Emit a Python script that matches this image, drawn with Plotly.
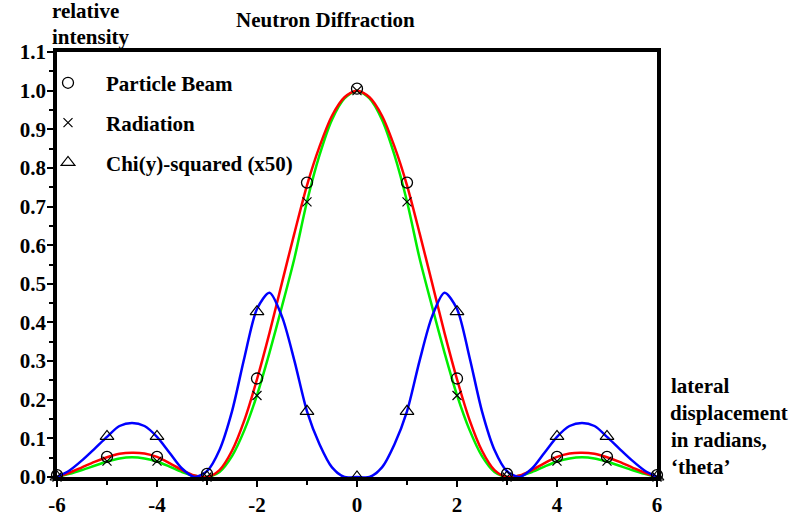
import plotly.graph_objects as go

# Curve sample positions (lateral displacement, radians)
curve_x = [-6.0, -5.75, -5.5, -5.25, -5.0, -4.75, -4.5, -4.25, -4.0, -3.75, -3.5, -3.25,
           -3.0, -2.75, -2.5, -2.25, -2.0, -1.75, -1.5, -1.25, -1.0, -0.75, -0.5, -0.25,
           0.0, 0.25, 0.5, 0.75, 1.0, 1.25, 1.5, 1.75, 2.0, 2.25, 2.5, 2.75,
           3.0, 3.25, 3.5, 3.75, 4.0, 4.25, 4.5, 4.75, 5.0, 5.25, 5.5, 5.75, 6.0]

# Red curve (particle beam)
beam_curve = [0.000, 0.011, 0.025, 0.039, 0.051, 0.060, 0.063, 0.061, 0.052, 0.036, 0.018, 0.004,
              0.000, 0.018, 0.068, 0.148, 0.253, 0.373, 0.503, 0.632, 0.755, 0.855, 0.935, 0.983,
              1.000, 0.983, 0.935, 0.855, 0.755, 0.632, 0.503, 0.373, 0.253, 0.148, 0.068, 0.018,
              0.000, 0.004, 0.018, 0.036, 0.052, 0.061, 0.063, 0.060, 0.051, 0.039, 0.025, 0.011, 0.000]

# Green curve (radiation)
rad_curve = [0.000, 0.008, 0.018, 0.029, 0.040, 0.048, 0.051, 0.048, 0.040, 0.027, 0.013, 0.003,
             0.000, 0.013, 0.054, 0.122, 0.212, 0.322, 0.442, 0.567, 0.713, 0.833, 0.925, 0.980,
             1.000, 0.980, 0.925, 0.833, 0.713, 0.567, 0.442, 0.322, 0.212, 0.122, 0.054, 0.013,
             0.000, 0.003, 0.013, 0.027, 0.040, 0.048, 0.051, 0.048, 0.040, 0.029, 0.018, 0.008, 0.000]

# Blue curve (chi-squared x50)
chi_curve = [0.000, 0.017, 0.043, 0.073, 0.104, 0.132, 0.140, 0.132, 0.104, 0.063, 0.022, 0.000,
             0.015, 0.070, 0.170, 0.310, 0.435, 0.477, 0.415, 0.300, 0.170, 0.085, 0.025, 0.000,
             0.000, 0.000, 0.025, 0.085, 0.170, 0.300, 0.415, 0.477, 0.435, 0.310, 0.170, 0.070,
             0.015, 0.000, 0.022, 0.063, 0.104, 0.132, 0.140, 0.132, 0.104, 0.073, 0.043, 0.017, 0.000]

# Measured points
point_x = [-6, -5, -4, -3, -2, -1, 0, 1, 2, 3, 4, 5, 6]
beam_pts = [0.005, 0.052, 0.052, 0.008, 0.255, 0.762, 1.005, 0.762, 0.255, 0.008, 0.052, 0.052, 0.005]
rad_pts = [0.0, 0.041, 0.041, 0.0, 0.211, 0.712, 1.0, 0.712, 0.211, 0.0, 0.041, 0.041, 0.0]
chi_pts = [0.0, 0.105, 0.105, 0.0, 0.428, 0.170, 0.0, 0.170, 0.428, 0.0, 0.105, 0.105, 0.0]

# Tick labels
x_tick_vals = [-6, -4, -2, 0, 2, 4, 6]
x_tick_text = ["-6", "-4", "-2", "0", "2", "4", "6"]

FONT = "Liberation Serif"

fig = go.Figure()
fig.add_trace(go.Scatter(x=curve_x, y=rad_curve, mode="lines", showlegend=False,
                         line=dict(color="#00ee00", width=2.5, shape="spline", smoothing=0.8)))
fig.add_trace(go.Scatter(x=curve_x, y=beam_curve, mode="lines", showlegend=False,
                         line=dict(color="#ff0000", width=2.5, shape="spline", smoothing=0.8)))
fig.add_trace(go.Scatter(x=curve_x, y=chi_curve, mode="lines", showlegend=False,
                         line=dict(color="#0000ff", width=2.5, shape="spline", smoothing=0.8)))

fig.add_trace(go.Scatter(x=point_x, y=beam_pts, mode="markers", name="Particle Beam",
                         legendgroup="a", cliponaxis=False,
                         marker=dict(symbol="circle-open", size=11, color="black",
                                     line=dict(width=1.3, color="black"))))
fig.add_trace(go.Scatter(x=point_x, y=rad_pts, mode="markers", name="Radiation",
                         legendgroup="b", cliponaxis=False,
                         marker=dict(symbol="x-thin-open", size=9, color="black",
                                     line=dict(width=1.2, color="black"))))
fig.add_trace(go.Scatter(x=point_x, y=chi_pts, mode="markers", name="Chi(y)-squared (x50)",
                         legendgroup="c", cliponaxis=False,
                         marker=dict(symbol="triangle-up-open", size=12, color="black",
                                     line=dict(width=1.2, color="black"))))

axis_common = dict(showgrid=False, zeroline=False, showline=True, linecolor="black",
                   linewidth=3.5, mirror=True, ticks="outside", tickcolor="black",
                   tickwidth=2, ticklen=6,
                   tickfont=dict(family=FONT, size=21, color="black", weight="bold"))

fig.update_xaxes(range=[-6, 6], tickvals=x_tick_vals, ticktext=x_tick_text,
                 minor=dict(dtick=1, tick0=0, ticks="outside", ticklen=4, tickcolor="black", tickwidth=2),
                 **axis_common)
fig.update_yaxes(range=[0, 1.1], dtick=0.1, tick0=0, tickformat=".1f", ticklabelstandoff=-3,
                 minor=dict(dtick=0.05, tick0=0, ticks="outside", ticklen=4, tickcolor="black", tickwidth=2),
                 **axis_common)

txt = dict(family=FONT, size=21, color="black", weight="bold")
annotations = [
    dict(text="Neutron Diffraction", x=325, y=20),
    dict(text="relative", x=50, y=11, xanchor="left"),
    dict(text="intensity", x=50, y=37, xanchor="left"),
    dict(text="lateral", x=669, y=386, xanchor="left"),
    dict(text="displacement", x=668, y=413, xanchor="left"),
    dict(text="in radians,", x=669, y=440, xanchor="left"),
    dict(text="\u2018theta\u2019", x=669, y=467, xanchor="left"),
]
ann_objs = []
for a in annotations:
    px, py = a["x"], a["y"]
    ann_objs.append(dict(text=a["text"], xref="paper", yref="paper",
                         x=(px - 57) / 600, y=(477 - py) / 425,
                         xanchor=a.get("xanchor", "center"), yanchor="middle",
                         showarrow=False, font=txt))

fig.update_layout(
    width=791, height=521,
    margin=dict(l=57, r=134, t=52, b=44, autoexpand=False),
    paper_bgcolor="white", plot_bgcolor="white",
    annotations=ann_objs,
    showlegend=True,
    legend=dict(x=-0.045, y=0.975, xanchor="left", yanchor="top",
                bgcolor="rgba(0,0,0,0)", font=txt, traceorder="grouped",
                tracegroupgap=9.5, itemwidth=66),
)

fig.write_html("out.html", config={"displayModeBar": False},
               post_script="document.body.style.margin='0px';document.body.style.overflow='hidden';")
